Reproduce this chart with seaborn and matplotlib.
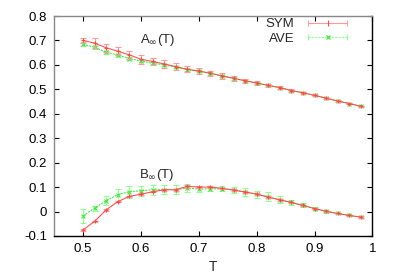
import numpy as np
import pandas as pd
import matplotlib
matplotlib.use("Agg")
import matplotlib.pyplot as plt
import seaborn as sns
from matplotlib.lines import Line2D
from matplotlib.legend_handler import HandlerLine2D, HandlerTuple

T = [0.50, 0.52, 0.54, 0.56, 0.58, 0.60, 0.62, 0.64, 0.66, 0.68, 0.70, 0.72, 0.74,
     0.76, 0.78, 0.80, 0.82, 0.84, 0.86, 0.88, 0.90, 0.92, 0.94, 0.96, 0.98]

A_sym = [0.700, 0.689, 0.670, 0.656, 0.641, 0.623, 0.614, 0.604, 0.593, 0.582, 0.575, 0.566, 0.555,
         0.545, 0.535, 0.526, 0.516, 0.507, 0.495, 0.486, 0.475, 0.464, 0.452, 0.442, 0.430]
A_sym_err = [0.012, 0.020, 0.016, 0.016, 0.016, 0.018, 0.016, 0.015, 0.015, 0.013, 0.012, 0.010, 0.011,
             0.010, 0.008, 0.007, 0.006, 0.005, 0.005, 0.004, 0.004, 0.004, 0.003, 0.003, 0.003]
A_ave = [0.684, 0.672, 0.652, 0.640, 0.626, 0.616, 0.607, 0.600, 0.591, 0.581, 0.574, 0.565, 0.555,
         0.545, 0.535, 0.526, 0.516, 0.507, 0.495, 0.486, 0.475, 0.464, 0.452, 0.442, 0.430]
A_ave_err = [0.008, 0.007, 0.006, 0.006, 0.006, 0.006, 0.005, 0.005, 0.005, 0.005, 0.005, 0.005, 0.005,
             0.005, 0.005, 0.004, 0.004, 0.004, 0.004, 0.003, 0.003, 0.003, 0.003, 0.003, 0.003]

B_sym = [-0.075, -0.040, 0.007, 0.041, 0.062, 0.071, 0.081, 0.089, 0.089, 0.103, 0.100, 0.100, 0.095,
         0.088, 0.080, 0.071, 0.059, 0.048, 0.037, 0.025, 0.012, 0.001, -0.008, -0.016, -0.023]
B_sym_err = [0.003, 0.003, 0.003, 0.003, 0.003, 0.003, 0.003, 0.003, 0.003, 0.006, 0.004, 0.003, 0.003,
             0.003, 0.003, 0.003, 0.003, 0.003, 0.003, 0.003, 0.003, 0.003, 0.003, 0.003, 0.003]
B_ave = [-0.018, 0.014, 0.045, 0.069, 0.081, 0.085, 0.089, 0.090, 0.090, 0.096, 0.092, 0.093, 0.093,
         0.088, 0.080, 0.071, 0.060, 0.048, 0.037, 0.025, 0.012, 0.001, -0.008, -0.016, -0.023]
B_ave_err = [0.030, 0.010, 0.020, 0.025, 0.025, 0.020, 0.020, 0.020, 0.020, 0.015, 0.012, 0.010, 0.010,
             0.012, 0.015, 0.015, 0.018, 0.015, 0.012, 0.008, 0.006, 0.005, 0.004, 0.004, 0.004]

xticks = [0.5, 0.6, 0.7, 0.8, 0.9, 1.0]
xticklabels = ["0.5", "0.6", "0.7", "0.8", "0.9", "1"]
yticks = [-0.1, 0, 0.1, 0.2, 0.3, 0.4, 0.5, 0.6, 0.7, 0.8]
yticklabels = ["-0.1", "0", "0.1", "0.2", "0.3", "0.4", "0.5", "0.6", "0.7", "0.8"]
series_names = ["SYM", "AVE"]

sns.set_style("ticks")
plt.rcParams['font.family'] = ['Liberation Sans', 'DejaVu Sans']

fig = plt.figure(figsize=(3.95, 2.76), dpi=100)
ax = fig.add_axes([0.137, 0.145, 0.806, 0.797])

RED = "#ff4848"
RED_ERR = "#ff9a9a"
GREEN = "#40e840"
GREEN_ERR = "#90ff90"

rows = []
for name, ys in [("A_sym", A_sym), ("A_ave", A_ave), ("B_sym", B_sym), ("B_ave", B_ave)]:
    for t, y in zip(T, ys):
        rows.append({"T": t, "val": y, "curve": name})
df = pd.DataFrame(rows)

DOT = (0, (2, 1))
for name, ys, errs, col, ecol, ls, mk in [
    ("A_ave", A_ave, A_ave_err, GREEN, GREEN_ERR, DOT, "x"),
    ("B_ave", B_ave, B_ave_err, GREEN, GREEN_ERR, DOT, "x"),
    ("A_sym", A_sym, A_sym_err, RED, RED_ERR, "-", "+"),
    ("B_sym", B_sym, B_sym_err, RED, RED_ERR, "-", "+"),
]:
    ax.errorbar(T, ys, yerr=errs, fmt="none", ecolor=ecol, elinewidth=0.8, capsize=2, capthick=0.8)
    sns.lineplot(data=df[df.curve == name], x="T", y="val", ax=ax, color=col, lw=0.75,
                 linestyle=ls, marker=mk, markersize=3, markeredgewidth=0.8,
                 markeredgecolor=col, legend=False)

# legend with gnuplot-style errorbar keys
h1c = Line2D([], [], color=RED_ERR, lw=0.8, marker="|", markersize=5, markeredgewidth=0.8)
h1m = Line2D([], [], color=RED, lw=0, marker="|", markersize=4, markeredgewidth=0.8)
h2c = Line2D([], [], color=GREEN_ERR, lw=0.8, linestyle=DOT, marker="|", markersize=5, markeredgewidth=0.8)
h2m = Line2D([], [], color=GREEN, lw=0, marker="x", markersize=3.5, markeredgewidth=0.9)
hm = {h1c: HandlerLine2D(numpoints=2), h2c: HandlerLine2D(numpoints=2),
      h1m: HandlerLine2D(numpoints=1), h2m: HandlerLine2D(numpoints=1),
      tuple: HandlerTuple(ndivide=1, pad=0)}
leg = ax.legend([(h1c, h1m), (h2c, h2m)], series_names, loc="upper right", frameon=False,
                markerfirst=False, fontsize=9.5, handlelength=3.6, borderaxespad=0.0,
                bbox_to_anchor=(0.95, 1.015), labelspacing=0.2, handletextpad=0.7,
                handler_map=hm)

ax.text(0.628, 0.70, r"A$_{\infty}$(T)", fontsize=9.5, ha="center", va="center")
ax.text(0.627, 0.148, r"B$_{\infty}$(T)", fontsize=9.5, ha="center", va="center")

ax.set_xlim(0.45, 1.0)
ax.set_ylim(-0.1, 0.8)
ax.set_xticks(xticks)
ax.set_xticklabels(xticklabels)
ax.set_yticks(yticks)
ax.set_yticklabels(yticklabels)
ax.set_xlabel("T", fontsize=10, labelpad=4)
ax.set_ylabel("")
ax.tick_params(direction="in", length=3.5, width=0.8, labelsize=9.5, top=True, right=True,
               colors="black", pad=5)
for k, s in ax.spines.items():
    s.set_visible(True)
    s.set_linewidth(1.0)
    s.set_color("#888888" if k in ("left", "top") else "black")

fig.savefig("out.png", dpi=100)
